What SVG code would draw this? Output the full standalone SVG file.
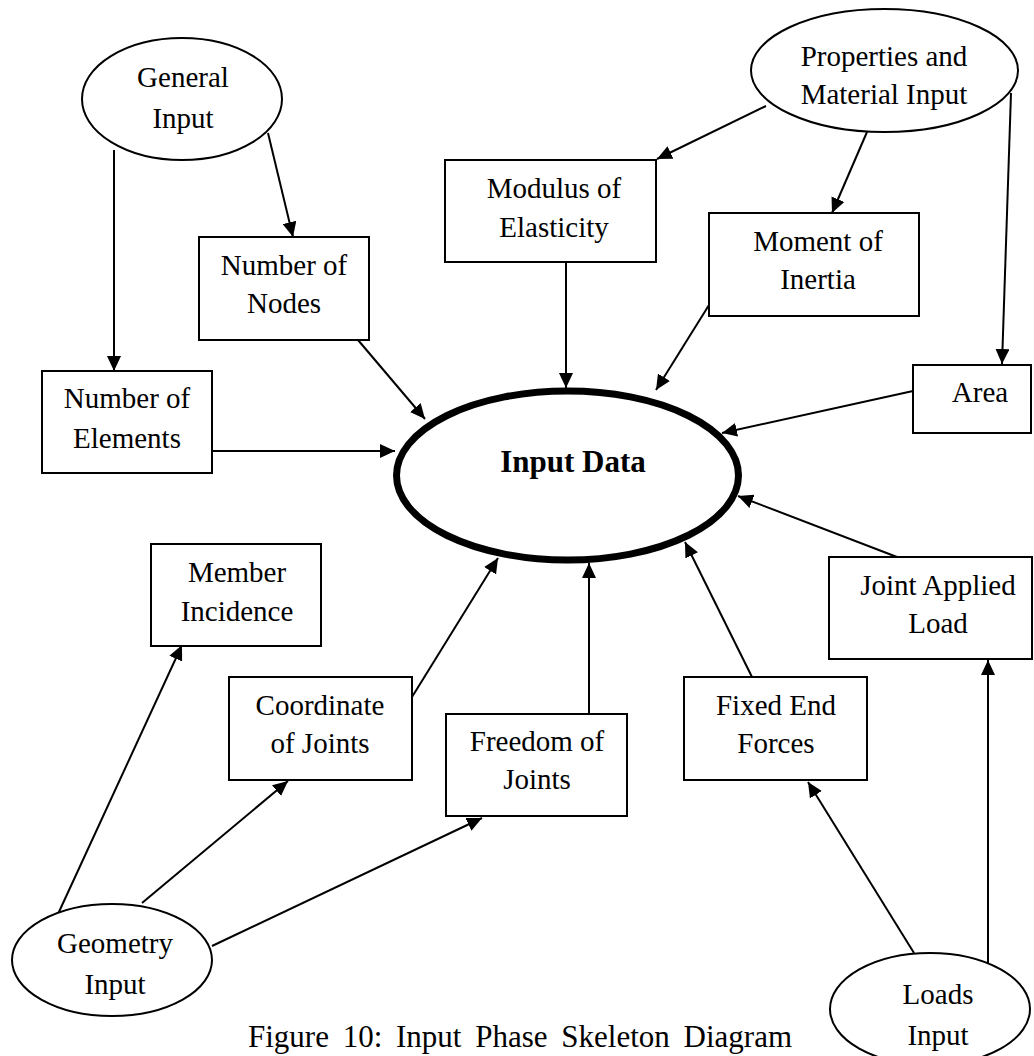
<svg xmlns="http://www.w3.org/2000/svg" width="1034" height="1056" viewBox="0 0 1034 1056">
  <defs>
    <marker id="arrow" markerUnits="userSpaceOnUse" markerWidth="15" markerHeight="14" refX="15" refY="7" orient="auto">
      <path d="M0,0 L15,7 L0,14 z" fill="#000"/>
    </marker>
    <style>
      .box { fill: #fff; stroke: #000; stroke-width: 2; }
      .oval { fill: #fff; stroke: #000; stroke-width: 2; }
      .hub { fill: #fff; stroke: #000; stroke-width: 7; }
      .lbl { font-family: "Liberation Serif", "Times New Roman", serif; font-size: 29px; fill: #000; text-anchor: middle; }
      .hubtxt { font-family: "Liberation Serif", "Times New Roman", serif; font-size: 31px; font-weight: bold; fill: #000; text-anchor: middle; }
      .cap { font-family: "Liberation Serif", "Times New Roman", serif; font-size: 31px; fill: #000; word-spacing: 6px; }
      .edge { fill: none; stroke: #000; stroke-width: 2; }
      .edge.arr { marker-end: url(#arrow); }
    </style>
  </defs>
  <rect width="1034" height="1056" fill="#fff"/>

  <!-- connectors -->
  <g id="connectors">
    <line class="edge arr" x1="268" y1="133" x2="293" y2="237"/>
    <line class="edge arr" x1="114" y1="150" x2="114" y2="371"/>
    <line class="edge arr" x1="766" y1="106" x2="657" y2="159"/>
    <line class="edge arr" x1="867" y1="132" x2="832" y2="213"/>
    <line class="edge arr" x1="1011" y1="93" x2="1002" y2="364"/>
    <line class="edge arr" x1="358" y1="340" x2="425" y2="419"/>
    <line class="edge arr" x1="212" y1="451" x2="395" y2="451"/>
    <line class="edge arr" x1="566" y1="262" x2="566" y2="388"/>
    <line class="edge arr" x1="709" y1="305" x2="656" y2="390"/>
    <line class="edge arr" x1="913" y1="391" x2="722" y2="433"/>
    <line class="edge arr" x1="897" y1="557" x2="738" y2="496"/>
    <line class="edge arr" x1="752" y1="677" x2="685" y2="542"/>
    <line class="edge arr" x1="589" y1="714" x2="589" y2="563"/>
    <line class="edge arr" x1="412" y1="697" x2="498" y2="558"/>
    <line class="edge arr" x1="58" y1="914" x2="182" y2="645"/>
    <line class="edge arr" x1="142" y1="903" x2="288" y2="781"/>
    <line class="edge arr" x1="212" y1="946" x2="482" y2="818"/>
    <line class="edge arr" x1="914" y1="953" x2="808" y2="782"/>
    <line class="edge arr" x1="988" y1="964" x2="988" y2="660"/>
  </g>

  <!-- source ovals -->
  <g id="general-input">
    <ellipse class="oval" cx="182" cy="99" rx="100" ry="61"/>
    <text class="lbl" x="183" y="87">General</text>
    <text class="lbl" x="183" y="128">Input</text>
  </g>
  <g id="properties-input">
    <ellipse class="oval" cx="884.5" cy="70.5" rx="133.5" ry="61.5"/>
    <text class="lbl" x="884" y="66">Properties and</text>
    <text class="lbl" x="884" y="104">Material Input</text>
  </g>
  <g id="geometry-input">
    <ellipse class="oval" cx="112" cy="960" rx="100" ry="56"/>
    <text class="lbl" x="115" y="953">Geometry</text>
    <text class="lbl" x="115" y="994">Input</text>
  </g>
  <g id="loads-input">
    <ellipse class="oval" cx="930" cy="1009" rx="100" ry="56"/>
    <text class="lbl" x="938" y="1004">Loads</text>
    <text class="lbl" x="938" y="1045">Input</text>
  </g>

  <!-- data boxes -->
  <g id="number-of-nodes">
    <rect class="box" x="199" y="237" width="170" height="103"/>
    <text class="lbl" x="284" y="275">Number of</text>
    <text class="lbl" x="284" y="313">Nodes</text>
  </g>
  <g id="number-of-elements">
    <rect class="box" x="42" y="371" width="170" height="102"/>
    <text class="lbl" x="127" y="408">Number of</text>
    <text class="lbl" x="127" y="448">Elements</text>
  </g>
  <g id="modulus-of-elasticity">
    <rect class="box" x="445" y="160" width="211" height="102"/>
    <text class="lbl" x="554" y="198">Modulus of</text>
    <text class="lbl" x="554" y="237">Elasticity</text>
  </g>
  <g id="moment-of-inertia">
    <rect class="box" x="709" y="213" width="210" height="103"/>
    <text class="lbl" x="818" y="251">Moment of</text>
    <text class="lbl" x="818" y="289">Inertia</text>
  </g>
  <g id="area">
    <rect class="box" x="913" y="365" width="118" height="68"/>
    <text class="lbl" x="980" y="402">Area</text>
  </g>
  <g id="member-incidence">
    <rect class="box" x="151" y="544" width="170" height="102"/>
    <text class="lbl" x="237" y="582">Member</text>
    <text class="lbl" x="237" y="621">Incidence</text>
  </g>
  <g id="coordinate-of-joints">
    <rect class="box" x="229" y="677" width="183" height="103"/>
    <text class="lbl" x="320" y="715">Coordinate</text>
    <text class="lbl" x="320" y="753">of Joints</text>
  </g>
  <g id="freedom-of-joints">
    <rect class="box" x="446" y="714" width="181" height="102"/>
    <text class="lbl" x="537" y="751">Freedom of</text>
    <text class="lbl" x="537" y="789">Joints</text>
  </g>
  <g id="fixed-end-forces">
    <rect class="box" x="684" y="677" width="183" height="103"/>
    <text class="lbl" x="776" y="715">Fixed End</text>
    <text class="lbl" x="776" y="753">Forces</text>
  </g>
  <g id="joint-applied-load">
    <rect class="box" x="829" y="557" width="203" height="102"/>
    <text class="lbl" x="938" y="595">Joint Applied</text>
    <text class="lbl" x="938" y="633">Load</text>
  </g>

  <!-- central node -->
  <g id="input-data">
    <ellipse class="hub" cx="567.5" cy="475.5" rx="171" ry="84.5"/>
    <text class="hubtxt" x="573" y="472">Input Data</text>
  </g>

  <!-- caption -->
  <text class="cap" x="248" y="1047">Figure 10: Input Phase Skeleton Diagram</text>
</svg>
